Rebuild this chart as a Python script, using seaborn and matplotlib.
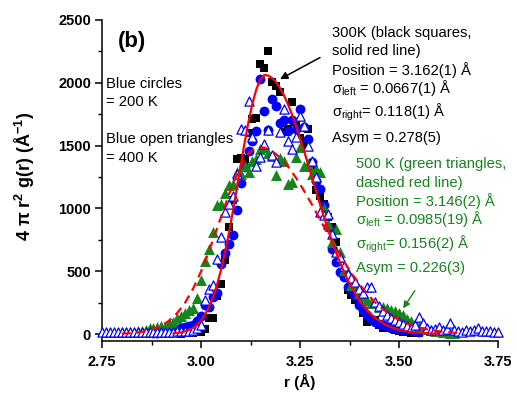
import matplotlib
matplotlib.use('Agg')
import matplotlib.pyplot as plt
import seaborn as sns

# ---------------- data ----------------
# 300 K : black squares
r_300K = [2.95, 2.96, 2.97, 2.98, 2.99, 3.00, 3.01, 3.02, 3.03, 3.04,
          3.05, 3.06, 3.07, 3.08, 3.09, 3.10, 3.11, 3.12, 3.13, 3.14,
          3.15, 3.16, 3.17, 3.18, 3.19, 3.20, 3.21, 3.22, 3.23, 3.24,
          3.25, 3.26, 3.27, 3.28, 3.29, 3.30, 3.31, 3.32, 3.33, 3.34,
          3.35, 3.36, 3.37, 3.38, 3.39, 3.40, 3.41, 3.42, 3.43, 3.44,
          3.45, 3.46, 3.47, 3.48, 3.49, 3.50, 3.51, 3.52, 3.53, 3.54,
          3.55]
g_300K = [4, 6, 8, 10, 14, 18, 40, 130, 125, 305,
          400, 590, 850, 1065, 1395, 1405, 1390, 1600, 1712, 1720,
          2150, 2115, 2255, 2005, 1975, 1925, 1606, 1632, 1844, 1685,
          1560, 1500, 1632, 1328, 1143, 1100, 1037, 930, 852, 733,
          600, 470, 349, 310, 270, 256, 164, 98, 111, 111,
          70, 50, 45, 45, 30, 22, 18, 14, 10, 8,
          6]

# 200 K : blue filled circles
r_200K = [2.88, 2.89, 2.90, 2.91, 2.92, 2.93, 2.94, 2.95, 2.96, 2.97,
          2.98, 2.99, 3.00, 3.01, 3.02, 3.03, 3.04, 3.05, 3.06, 3.07,
          3.08, 3.09, 3.10, 3.11, 3.12, 3.13, 3.14, 3.15, 3.16, 3.17,
          3.18, 3.19, 3.20, 3.21, 3.22, 3.23, 3.24, 3.25, 3.26, 3.27,
          3.28, 3.29, 3.30, 3.31, 3.32, 3.33, 3.34, 3.35, 3.36, 3.37,
          3.38, 3.39, 3.40, 3.41, 3.42, 3.43, 3.44, 3.45, 3.46, 3.47,
          3.48, 3.49, 3.50, 3.51, 3.52, 3.53, 3.54, 3.55]
g_200K = [8, 10, 12, 15, 18, 25, 37, 45, 56, 60,
          71, 100, 145, 230, 217, 291, 328, 561, 645, 720,
          791, 990, 1200, 1330, 1460, 1540, 1613, 2029, 1778, 1624,
          1870, 1812, 1680, 1700, 1619, 1706, 1632, 1791, 1650, 1553,
          1368, 1222, 1156, 1024, 850, 680, 574, 494, 455, 375,
          349, 300, 230, 190, 150, 120, 95, 80, 70, 60,
          50, 45, 40, 35, 45, 30, 20, 15]

# 400 K : blue open triangles
r_400K = [2.75, 2.76, 2.77, 2.78, 2.79, 2.80, 2.81, 2.82, 2.83, 2.84,
          2.85, 2.86, 2.87, 2.88, 2.89, 2.90, 2.91, 2.92, 2.93, 2.94,
          2.95, 2.96, 2.97, 2.98, 2.99, 3.00, 3.01, 3.02, 3.03, 3.04,
          3.05, 3.06, 3.07, 3.08, 3.09, 3.10, 3.11, 3.12, 3.13, 3.14,
          3.15, 3.16, 3.17, 3.18, 3.19, 3.20, 3.21, 3.22, 3.23, 3.24,
          3.25, 3.26, 3.27, 3.28, 3.29, 3.30, 3.31, 3.32, 3.33, 3.34,
          3.35, 3.36, 3.37, 3.38, 3.39, 3.40, 3.41, 3.42, 3.43, 3.44,
          3.45, 3.46, 3.47, 3.48, 3.49, 3.50, 3.51, 3.52, 3.53, 3.54,
          3.55, 3.56, 3.57, 3.58, 3.59, 3.60, 3.61, 3.62, 3.63, 3.64,
          3.65, 3.66, 3.67, 3.68, 3.69, 3.70, 3.71, 3.72, 3.73, 3.74,
          3.75]
g_400K = [18, 16, 18, 17, 18, 16, 18, 17, 18, 16,
          18, 17, 18, 16, 18, 17, 18, 16, 18, 20,
          20, 22, 25, 30, 45, 71, 270, 362, 389, 600,
          775, 971, 1037, 1100, 1275, 1636, 1624, 1857, 1566, 1341,
          1407, 1513, 1624, 1428, 1368, 1606, 1791, 1540, 1474, 1566,
          1738, 1659, 1500, 1375, 1249, 971, 944, 958, 800, 653,
          610, 540, 481, 442, 415, 362, 330, 375, 375, 256,
          220, 180, 150, 124, 110, 98, 80, 60, 45, 70,
          137, 90, 50, 32, 40, 58, 30, 40, 85, 35,
          25, 18, 32, 25, 30, 45, 25, 20, 22, 18,
          18]

# 500 K : green filled triangles
r_500K = [2.80, 2.81, 2.82, 2.83, 2.84, 2.85, 2.86, 2.87, 2.88, 2.89,
          2.90, 2.91, 2.92, 2.93, 2.94, 2.95, 2.96, 2.97, 2.98, 2.99,
          3.00, 3.01, 3.02, 3.03, 3.04, 3.05, 3.06, 3.07, 3.08, 3.09,
          3.10, 3.11, 3.12, 3.13, 3.14, 3.15, 3.16, 3.17, 3.18, 3.19,
          3.20, 3.21, 3.22, 3.23, 3.24, 3.25, 3.26, 3.27, 3.28, 3.29,
          3.30, 3.31, 3.32, 3.33, 3.34, 3.35, 3.36, 3.37, 3.38, 3.39,
          3.40, 3.41, 3.42, 3.43, 3.44, 3.45, 3.46, 3.47, 3.48, 3.49,
          3.50, 3.51, 3.52, 3.53, 3.54, 3.55, 3.56, 3.57, 3.58, 3.59,
          3.60, 3.61, 3.62, 3.63, 3.64]
g_500K = [15, 15, 18, 18, 20, 22, 35, 45, 50, 55,
          60, 58, 85, 95, 124, 140, 164, 190, 204, 290,
          429, 580, 680, 812, 1024, 1037, 1120, 1183, 1196, 1288,
          1275, 1341, 1288, 1380, 1394, 1474, 1487, 1439, 1421, 1262,
          1402, 1381, 1196, 1209, 1408, 1487, 1341, 1354, 1275, 1315,
          1288, 1000, 878, 733, 839, 650, 508, 494, 389, 389,
          330, 300, 270, 250, 243, 217, 215, 204, 190, 185,
          170, 150, 120, 100, 80, 60, 50, 40, 30, 25,
          20, 15, 12, 10, 8]

# fit curves
r_fit300 = [2.93, 2.94, 2.95, 2.96, 2.97, 2.98, 2.99, 3.00, 3.01, 3.02,
            3.03, 3.04, 3.05, 3.06, 3.07, 3.08, 3.09, 3.10, 3.11, 3.12,
            3.13, 3.14, 3.15, 3.16, 3.17, 3.18, 3.19, 3.20, 3.21, 3.22,
            3.23, 3.24, 3.25, 3.26, 3.27, 3.28, 3.29, 3.30, 3.31, 3.32,
            3.33, 3.34, 3.35, 3.36, 3.37, 3.38, 3.39, 3.40, 3.41, 3.42,
            3.43, 3.44, 3.45, 3.46, 3.47, 3.48, 3.49, 3.50, 3.51, 3.52,
            3.53, 3.54, 3.55, 3.56, 3.57, 3.58, 3.59, 3.60]
g_fit300 = [5, 8, 13, 21, 33, 50, 74, 108, 153, 214,
            291, 387, 503, 640, 796, 968, 1150, 1337, 1520, 1689,
            1836, 1951, 2027, 2062, 2057, 2036, 2003, 1956, 1896, 1826,
            1745, 1656, 1560, 1459, 1355, 1249, 1144, 1039, 937, 840,
            747, 659, 578, 503, 435, 373, 318, 269, 226, 189,
            156, 128, 105, 85, 68, 54, 43, 34, 27, 21,
            16, 13, 10, 8, 6, 4, 3, 2]

r_fit500 = [2.80, 2.82, 2.84, 2.86, 2.88, 2.90, 2.92, 2.94, 2.96, 2.98,
            3.00, 3.02, 3.04, 3.06, 3.08, 3.10, 3.12, 3.14, 3.16, 3.18,
            3.20, 3.22, 3.24, 3.26, 3.28, 3.30, 3.32, 3.34, 3.36, 3.38,
            3.40, 3.42, 3.44, 3.46, 3.48, 3.50, 3.52, 3.54, 3.56, 3.58,
            3.60, 3.62, 3.64, 3.66]
g_fit500 = [3, 6, 12, 22, 39, 66, 107, 167, 250, 360,
            497, 658, 835, 1018, 1190, 1336, 1439, 1487, 1484, 1455,
            1403, 1331, 1243, 1141, 1031, 915, 800, 689, 582, 484,
            397, 318, 251, 196, 151, 114, 84, 61, 44, 31,
            22, 15, 10, 7]

x_ticks = [2.75, 3.00, 3.25, 3.50, 3.75]
x_tick_labels = ['2.75', '3.00', '3.25', '3.50', '3.75']
y_ticks = [0, 500, 1000, 1500, 2000, 2500]
y_tick_labels = ['0', '500', '1000', '1500', '2000', '2500']

label_200 = ['Blue circles', '= 200 K']
label_400 = ['Blue open triangles', '= 400 K']
text_300 = ['300K (black squares,', 'solid red line)',
            'Position = 3.162(1) Å',
            r'$\mathrm{σ_{left}}$ = 0.0667(1) Å',
            r'$\mathrm{σ_{right}}$= 0.118(1) Å',
            'Asym = 0.278(5)']
text_500 = ['500 K (green triangles,', 'dashed red line)',
            'Position = 3.146(2) Å',
            r'$\mathrm{σ_{left}}$ = 0.0985(19) Å',
            r'$\mathrm{σ_{right}}$= 0.156(2) Å',
            'Asym = 0.226(3)']

# ---------------- style ----------------
sns.set_style('ticks')
plt.rcParams['font.family'] = ['Liberation Sans', 'DejaVu Sans']
plt.rcParams['mathtext.fontset'] = 'custom'
plt.rcParams['mathtext.rm'] = 'Liberation Sans'
plt.rcParams['mathtext.it'] = 'Liberation Sans:italic'
plt.rcParams['mathtext.bf'] = 'Liberation Sans:bold'
plt.rcParams['text.color'] = 'black'
plt.rcParams['axes.labelcolor'] = 'black'
plt.rcParams['xtick.color'] = 'black'
plt.rcParams['ytick.color'] = 'black'
plt.rcParams['xtick.labelcolor'] = 'black'
plt.rcParams['ytick.labelcolor'] = 'black'

W, H = 517, 397
fig = plt.figure(figsize=(W / 100, H / 100), dpi=100)
ax = fig.add_axes([102 / W, 1 - 341 / H, 396 / W, 321 / H])

GREEN = '#14861a'
BLUE = '#0000ff'
RED = '#ff0000'

sns.scatterplot(x=r_300K, y=g_300K, marker='s', s=34, color='black',
                linewidth=0, ax=ax, zorder=2, clip_on=False)
sns.scatterplot(x=r_200K, y=g_200K, marker='o', s=50, color=BLUE,
                linewidth=0, ax=ax, zorder=3, clip_on=False)
sns.scatterplot(x=r_500K, y=g_500K, marker='^', s=62, color=GREEN,
                linewidth=0, ax=ax, zorder=4, clip_on=False)
sns.scatterplot(x=r_400K, y=g_400K, marker='^', s=44, color='white',
                edgecolor=BLUE, linewidth=0.9, ax=ax, zorder=5, clip_on=False)

sns.lineplot(x=r_fit300, y=g_fit300, color=RED, linewidth=1.6, ax=ax,
             estimator=None, sort=False, zorder=6)
sns.lineplot(x=r_fit500, y=g_fit500, color=RED, linewidth=1.6, ax=ax,
             estimator=None, sort=False, zorder=6)
ax.lines[-1].set_dashes((4, 2.6))

ax.set_xlim(2.75, 3.75)
ax.set_ylim(-55.7, 2500)
sns.despine(ax=ax)
for sp in ['left', 'bottom']:
    ax.spines[sp].set_linewidth(1.1)
    ax.spines[sp].set_color('black')

ax.set_xticks(x_ticks)
ax.set_xticklabels(x_tick_labels, fontweight='bold', fontsize=10.5, color='black')
ax.set_yticks(y_ticks)
ax.set_yticklabels(y_tick_labels, fontweight='bold', fontsize=10.5, color='black')
ax.set_xticks([2.875, 3.125, 3.375, 3.625], minor=True)
ax.set_yticks([250, 750, 1250, 1750, 2250], minor=True)
ax.tick_params(which='major', direction='out', length=5, width=1.1, pad=3, colors='black')
ax.tick_params(which='minor', direction='out', length=3, width=1.0, colors='black')
ax.tick_params(axis='x', which='major', pad=5)

ax.set_ylabel(r'4 $\mathbf{π}$ r$^{\mathbf{2}}$ g(r) (Å$^{\mathbf{-1}}$)',
              fontsize=13, fontweight='bold', color='black')
ax.yaxis.set_label_coords((37 - 102) / 396, (341 - 176) / 321)
ax.set_xlabel('r (Å)', fontsize=11, fontweight='bold', color='black')
ax.xaxis.set_label_coords((300 - 102) / 396, -(374 - 341) / 321)


def ftext(px, py, s, **kw):
    fig.text(px / W, 1 - py / H, s, va='baseline', ha='left', **kw)


ftext(118, 47, '(b)', fontsize=16, fontweight='bold', color='black')
for s, py in zip(label_200, [88, 106]):
    ftext(106.5, py, s, fontsize=10.6, color='black')
for s, py in zip(label_400, [143, 162]):
    ftext(106.5, py, s, fontsize=10.6, color='black')
for s, py in zip(text_300, [37, 55, 75, 93, 117, 142]):
    ftext(332, py, s, fontsize=10.6, color='black')
for s, py in zip(text_500, [168, 187, 206, 224, 249, 272]):
    ftext(356, py, s, fontsize=10.6, color=GREEN)

ax.annotate('', xy=(3.1995, 2029), xytext=(3.3005, 2201),
            arrowprops=dict(arrowstyle='-|>', color='black', lw=1.1,
                            mutation_scale=11, shrinkA=0, shrinkB=0), zorder=7)
ax.annotate('', xy=(3.5104, 204), xytext=(3.5399, 344),
            arrowprops=dict(arrowstyle='-|>', color=GREEN, lw=1.0,
                            mutation_scale=10, shrinkA=0, shrinkB=0), zorder=7)

fig.savefig('out.png', dpi=100)
